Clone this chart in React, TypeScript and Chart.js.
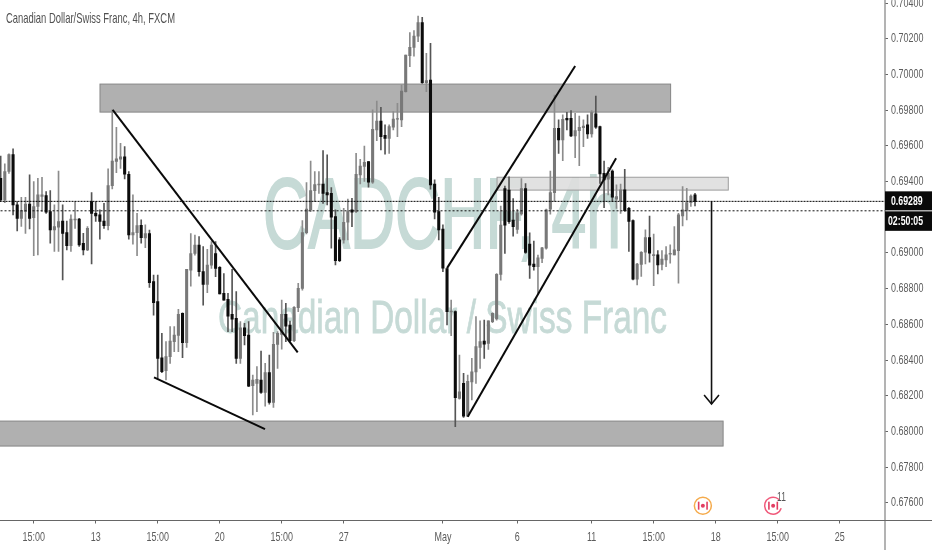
import React, { useEffect, useRef } from "react";
import { Chart, registerables } from "chart.js";

Chart.register(...registerables);

// Prices below are in 1/100000 units (69289 = 0.69289); one entry per 4h candle.
const highs = [
  69543,69499,69555,69583,69288,69312,69312,69437,69400,69418,69424,69344,69349,69269,69459,69269,69179,69213,69288,69194,69110,69148,69338,69288,69241,69278,69471,69801,69704,69614,69596,69456,69325,69222,69185,69157,
  69128,68876,68876,68549,68503,68587,68587,68684,68665,68908,69109,69100,69091,69035,69020,69063,69063,68923,68885,68773,68908,68783,68615,68605,68615,68316,68363,68450,68381,68428,68555,68559,68736,68717,68618,68699,68829,
  69181,69394,69515,69456,69456,69573,69549,69366,69241,69086,69250,69302,69306,69558,69525,69599,69512,69801,69851,69816,69717,69717,69792,69838,69941,70109,70234,70245,70327,70320,70118,70174,69409,69312,69157,
  68913,68736,68676,68428,68325,68316,68409,68643,68620,68624,68620,68665,68885,69262,69374,69427,69305,69244,69417,69389,69113,69066,68988,69031,
  69245,69459,69885,69745,69773,69788,69797,69782,69767,69745,69773,69797,69879,69711,69515,69480,69465,69381,69386,69469,69256,69185,68942,69008,69129,69207,69106,69013,69013,69036,69045,69148,69222,69372,69362,69325,69334,
];
const lows = [
  69288,69282,69446,69213,69123,69148,69110,69134,68985,68989,69232,69222,69054,69008,69008,68849,69017,69008,69138,69036,68989,69013,68938,69176,69077,69138,69129,69358,69450,69474,69415,69077,69049,68985,69054,69030,
  68807,68652,68297,68329,68288,68381,68447,68447,68413,68471,68814,68988,68870,68708,68777,68913,68867,68770,68736,68559,68559,68381,68381,68484,68251,68092,68110,68213,68142,68153,68135,68353,68461,68503,68503,68503,68671,
  68792,69106,69231,69287,69334,69278,69269,69026,68933,68951,69054,69073,69147,69226,69386,69400,69368,69390,69629,69577,69553,69558,69689,69652,69708,69900,70044,70103,70184,69950,69904,69357,69190,69073,68895,
  68596,68536,68026,68181,68079,68082,68176,68269,68353,68409,68460,68609,68624,68848,68997,69165,69094,69109,69212,68997,68857,68904,68773,68945,
  69021,69217,69288,69558,69517,69689,69652,69534,69489,69596,69642,69648,69698,69390,69254,69325,69288,69250,69222,69232,69008,68849,68821,68868,68938,68948,68817,68882,68905,68923,68942,68989,68830,69151,69185,69260,69263,
];
const opens = [
  69418,69297,69456,69551,69269,69194,69232,69274,69198,69260,69317,69321,69232,69129,69144,69179,69114,69041,69185,69190,69054,69017,69288,69222,69213,69179,69153,69377,69512,69525,69538,69441,69101,69114,69155,69084,
  69109,68839,68727,68413,68340,68419,68503,68538,68661,68497,68904,68997,69044,68895,68824,68932,68997,68919,68773,68740,68656,68633,68409,68581,68540,68256,68269,68288,68219,68329,68163,68488,68544,68656,68596,68508,68693,
  68801,69114,69241,69349,69381,69386,69338,69334,69203,69073,69073,69172,69241,69231,69437,69485,69512,69396,69689,69739,69659,69642,69704,69749,69745,69904,70105,70152,70215,70290,69954,69969,69386,69231,69133,
  68913,68669,68671,68185,68269,68086,68278,68334,68471,68506,68493,68615,68630,68880,69361,69352,69184,69132,69218,69361,69050,68937,68923,68969,
  69026,69245,69338,69698,69633,69754,69754,69655,69685,69702,69717,69667,69779,69708,69446,69413,69459,69301,69293,69353,69250,69181,68853,68935,69004,69086,68985,68989,68935,68961,68993,68989,69013,69207,69238,69282,69325,
];
const closes = [
  69297,69456,69551,69269,69194,69237,69274,69194,69260,69325,69325,69228,69129,69148,69176,69110,69041,69189,69189,69045,69017,69138,69222,69207,69176,69153,69377,69515,69527,69538,69441,69101,69114,69153,69086,69108,
  68833,68721,68409,68335,68419,68506,68540,68656,68497,68908,68997,69044,68895,68824,68932,69044,68913,68770,68736,68646,68629,68409,68581,68536,68254,68288,68292,68219,68329,68163,68488,68549,68656,68590,68508,68695,68801,
  69114,69245,69349,69383,69386,69334,69325,69200,68957,68957,69172,69231,69228,69441,69487,69508,69396,69693,69739,69652,69642,69708,69750,69752,69907,70109,70152,70215,70290,69954,69965,69381,69228,69129,68914,
  68671,68674,68189,68222,68086,68280,68334,68475,68503,68489,68620,68661,68880,69156,69156,69175,69147,69225,69361,69003,68932,68923,68973,69029,
  69241,69338,69698,69633,69749,69745,69655,69685,69704,69711,69667,69786,69704,69443,69409,69446,69312,69316,69353,69237,69176,68853,68938,69004,69086,68998,68991,68933,68965,68989,68998,69017,69213,69241,69282,69319,69288,
];

const priceTicks = [70400,70200,70000,69800,69600,69400,69000,68800,68600,68400,68200,68000,67800,67600];
const timeTickIndex = [8,23,38,53,68,83,107,125,143,158,173,188,203];
const timeTickLabels = ["15:00","13","15:00","20","15:00","27","May","6","11","15:00","18","15:00","25"];

const lastPrice = 69289;
const lowerLevel = 69236;
const countdown = "02:50:05";

// [start index, end index, top price, bottom price]
const darkZones = [
  [24.03, 162.1, 69946, 69789],
  [-1, 174.8, 68058, 67918],
];
const lightZone = [120.1, 176.05, 69424, 69352];

// polylines as [candle index, price]
const trendLines = [
  [[27.1, 69801], [71.87, 68443]],
  [[37.1, 68303], [63.96, 68013]],
  [[108, 68915], [139, 70047]],
  [[113, 68082], [148.9, 69530]],
];
const arrowShaft = [[172, 69289], [172, 68154]];
const arrowHead = [[170.2, 68204], [172, 68154], [173.8, 68204]];

const title = "Canadian Dollar/Swiss Franc, 4h, FXCM";
const watermarkBig = "CADCHF, 4h";
const watermarkSmall = "Canadian Dollar / Swiss Franc";
const events = [
  { index: 169.9, price: 67584, ring: "#f5ab4c", count: "" },
  { index: 186.9, price: 67584, ring: "#f0597a", count: "11" },
];

const p = (v: number) => v / 100000;
const FAMILY = '"Liberation Sans", sans-serif';
const SQUEEZE = 0.7;

const narrowText = (ctx: any, text: string, x: number, y: number) => {
  const w = ctx.measureText(text).width;
  ctx.fillText(text, x, y, w * SQUEEZE);
};

const drawExtras = {
  id: "drawExtras",
  beforeDatasetsDraw(chart: any) {
    const { ctx, scales: { x, y }, chartArea: a } = chart;
    ctx.save();
    ctx.beginPath();
    ctx.rect(a.left, a.top, a.right - a.left, a.bottom - a.top);
    ctx.clip();
    ctx.fillStyle = "#c6dad6";
    ctx.strokeStyle = "#c6dad6";
    ctx.textBaseline = "alphabetic";
    ctx.textAlign = "left";
    ctx.font = `100px ${FAMILY}`;
    ctx.lineWidth = 2;
    ctx.fillText(watermarkBig, 263, 247.5, 358);
    ctx.strokeText(watermarkBig, 263, 247.5, 358);
    ctx.font = `46px ${FAMILY}`;
    ctx.lineWidth = 0.8;
    ctx.fillText(watermarkSmall, 218, 333, 449);
    ctx.strokeText(watermarkSmall, 218, 333, 449);
    const zone = (z: number[], fill: string, line: string) => {
      const l = x.getPixelForValue(z[0]);
      const r = x.getPixelForValue(z[1]);
      const t = y.getPixelForValue(p(z[2]));
      const b = y.getPixelForValue(p(z[3]));
      ctx.fillStyle = fill;
      ctx.fillRect(l, t, r - l, b - t);
      ctx.strokeStyle = line;
      ctx.lineWidth = 1;
      ctx.strokeRect(l, t, r - l, b - t);
    };
    darkZones.forEach((z) => zone(z, "#b0b0b0", "#868686"));
    zone(lightZone, "rgba(222,222,222,0.9)", "#9c9c9c");
    ctx.restore();
  },
  afterDraw(chart: any) {
    const { ctx, scales: { x, y }, chartArea: a, width, height } = chart;
    ctx.save();
    ctx.strokeStyle = "#9a9a9a";
    ctx.lineWidth = 1.5;
    ctx.beginPath();
    ctx.moveTo(a.right, 0);
    ctx.lineTo(a.right, height);
    ctx.stroke();
    ctx.strokeStyle = "#666";
    ctx.lineWidth = 1;
    ctx.beginPath();
    ctx.moveTo(0, a.bottom);
    ctx.lineTo(width, a.bottom);
    ctx.stroke();

    ctx.fillStyle = "#5c5c5c";
    ctx.font = `12.8px ${FAMILY}`;
    ctx.textBaseline = "middle";
    ctx.textAlign = "left";
    y.ticks.forEach((t: any) => {
      narrowText(ctx, t.label, a.right + 6, y.getPixelForValue(t.value));
    });
    ctx.textAlign = "center";
    x.ticks.forEach((t: any) => {
      narrowText(ctx, t.label, x.getPixelForValue(t.value), 537);
    });

    ctx.fillStyle = "#505050";
    ctx.font = `14.5px ${FAMILY}`;
    ctx.textAlign = "left";
    ctx.textBaseline = "alphabetic";
    ctx.fillText(title, 6, 22.5, 169);

    const py = y.getPixelForValue(p(lastPrice));
    ctx.fillStyle = "#0a0a0a";
    ctx.fillRect(a.right, py - 10, width - a.right, 19);
    ctx.fillRect(a.right, py + 10, width - a.right, 19.5);
    ctx.fillStyle = "#fff";
    ctx.font = `bold 12.5px ${FAMILY}`;
    ctx.textBaseline = "middle";
    narrowText(ctx, p(lastPrice).toFixed(5), a.right + 6, py);
    narrowText(ctx, countdown, a.right + 3, py + 20);

    events.forEach((e) => {
      const cx = x.getPixelForValue(e.index);
      const cy = y.getPixelForValue(p(e.price));
      ctx.strokeStyle = e.ring;
      ctx.lineWidth = 1.5;
      ctx.beginPath();
      if (e.count) ctx.arc(cx, cy, 8.5, 0.1 * Math.PI, 1.75 * Math.PI);
      else ctx.arc(cx, cy, 8.5, 0, 2 * Math.PI);
      ctx.stroke();
      ctx.fillStyle = "#e23d62";
      ctx.fillRect(cx - 5, cy - 4, 1.6, 8);
      ctx.fillRect(cx + 3.4, cy - 4, 1.6, 8);
      ctx.beginPath();
      ctx.arc(cx, cy, 2, 0, 2 * Math.PI);
      ctx.fill();
      if (e.count) {
        ctx.fillStyle = "#555";
        ctx.font = `12px ${FAMILY}`;
        ctx.textAlign = "left";
        narrowText(ctx, e.count, cx + 4, cy - 8);
      }
    });
    ctx.restore();
  },
};

export default function App() {
  const ref = useRef<HTMLCanvasElement>(null);
  useEffect(() => {
    const idx = highs.map((_, i) => i);
    const up = (i: number) => closes[i] >= opens[i];
    const lineSet = (pts: number[][], color: string, width: number, dash: number[] = []) => ({
      type: "line" as const,
      data: pts.map(([a, b]) => ({ x: a, y: p(b) })),
      borderColor: color,
      borderWidth: width,
      borderDash: dash,
      pointRadius: 0,
      tension: 0,
      order: 0,
    });
    const chart = new Chart(ref.current!, {
      type: "bar",
      data: {
        datasets: [
          lineSet([[-1, lastPrice], [214, lastPrice]], "#000", 1, [2, 1]),
          lineSet([[-1, lowerLevel], [214, lowerLevel]], "#111", 1, [2, 2]),
          ...trendLines.map((l) => lineSet(l, "#0a0a0a", 2)),
          lineSet(arrowShaft, "#111", 1.6),
          lineSet(arrowHead, "#111", 1.6),
          {
            type: "bar" as const,
            data: idx.map((i) => ({ x: i, y: [p(opens[i]), p(closes[i])] })),
            backgroundColor: idx.map((i) => (up(i) ? "#787878" : "#0c0c0c")),
            barThickness: 2.4,
            grouped: false,
            order: 1,
          },
          {
            type: "bar" as const,
            data: idx.map((i) => ({ x: i, y: [p(lows[i]), p(highs[i])] })),
            backgroundColor: idx.map((i) => (up(i) ? "#8c8c8c" : "#555555")),
            barThickness: 1,
            grouped: false,
            order: 2,
          },
        ] as any,
      },
      options: {
        animation: false,
        responsive: false,
        layout: { padding: 0 },
        plugins: { legend: { display: false }, tooltip: { enabled: false } },
        scales: {
          x: {
            type: "linear",
            offset: false,
            min: -0.162,
            max: 213.97,
            afterFit: (s: any) => { s.height = 29.5; s.paddingLeft = 0; s.paddingRight = 0; },
            afterBuildTicks: (s: any) => { s.ticks = timeTickIndex.map((v) => ({ value: v })); },
            grid: { offset: false, drawOnChartArea: false, drawTicks: true, tickLength: 3, color: "#666" },
            border: { display: false },
            ticks: {
              autoSkip: false,
              maxRotation: 0,
              padding: 5,
              color: "rgba(0,0,0,0)",
              font: { family: FAMILY, size: 11 },
              callback: (_v: any, i: number) => timeTickLabels[i],
            },
          },
          y: {
            position: "right",
            min: 0.67501,
            max: 0.70417,
            afterFit: (s: any) => { s.width = 47; s.paddingTop = 0; s.paddingBottom = 0; },
            afterBuildTicks: (s: any) => { s.ticks = priceTicks.map((v) => ({ value: p(v) })); },
            grid: { drawOnChartArea: false, drawTicks: true, tickLength: 3, color: "#666" },
            border: { display: false },
            ticks: {
              autoSkip: false,
              padding: 3,
              color: "rgba(0,0,0,0)",
              font: { family: FAMILY, size: 11 },
              callback: (v: any) => Number(v).toFixed(5),
            },
          },
        },
      } as any,
      plugins: [drawExtras],
    });
    return () => chart.destroy();
  }, []);
  return (
    <div style={{ position: "fixed", left: 0, top: 0, width: 932, height: 550, background: "#fff" }}>
      <canvas ref={ref} width={932} height={550} style={{ display: "block" }} />
    </div>
  );
}
